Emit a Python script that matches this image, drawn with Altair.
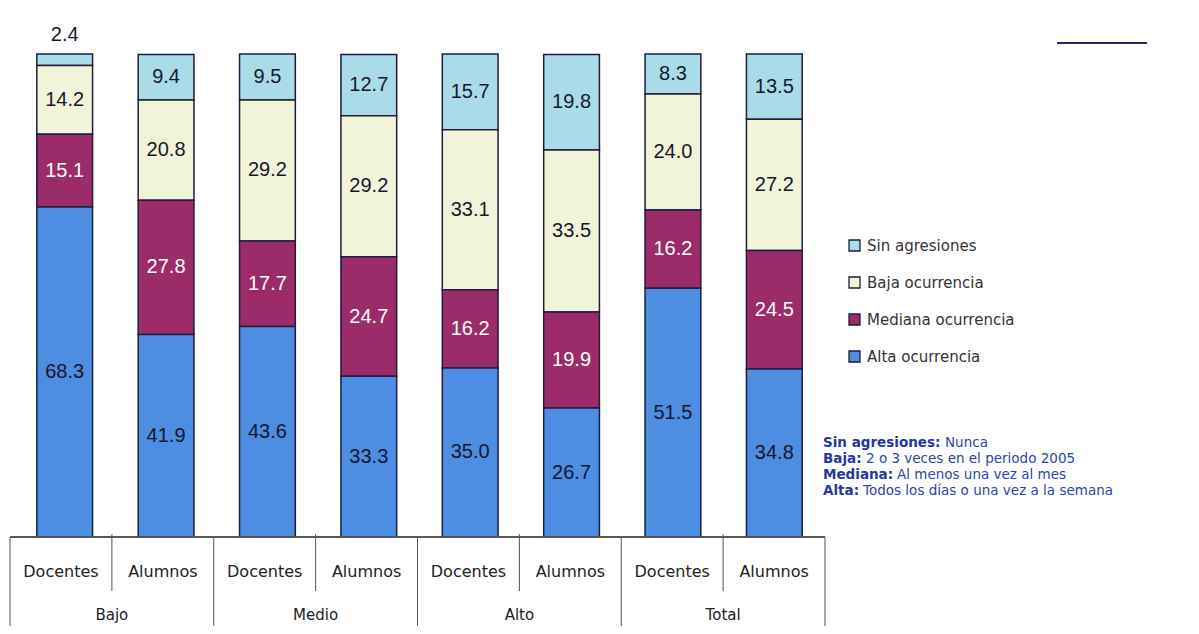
import altair as alt
import pandas as pd

# ---- data ----
groups = ["Bajo", "Bajo", "Medio", "Medio", "Alto", "Alto", "Total", "Total"]
who = ["Docentes", "Alumnos"] * 4
alta = [68.3, 41.9, 43.6, 33.3, 35.0, 26.7, 51.5, 34.8]
mediana = [15.1, 27.8, 17.7, 24.7, 16.2, 19.9, 16.2, 24.5]
baja = [14.2, 20.8, 29.2, 29.2, 33.1, 33.5, 24.0, 27.2]
sin = [2.4, 9.4, 9.5, 12.7, 15.7, 19.8, 8.3, 13.5]

series = ["Sin agresiones", "Baja ocurrencia", "Mediana ocurrencia", "Alta ocurrencia"]
colors = ["#a9dbe8", "#f2f4da", "#9b2b69", "#4d8de2"]

group_names = ["Bajo", "Medio", "Alto", "Total"]
note_keys = ["Sin agresiones:", "Baja:", "Mediana:", "Alta:"]
note_vals = ["Nunca", "2 o 3 veces en el periodo 2005",
             "Al menos una vez al mes", "Todos los días o una vez a la semana"]

# ---- tables ----
keys = [f"{g} {w}" for g, w in zip(groups, who)]
rows = []
for i, k in enumerate(keys):
    for s, vals, o in zip(series, [sin, baja, mediana, alta], [3, 2, 1, 0]):
        rows.append(dict(key=k, serie=s, v=vals[i], o=o))
df = pd.DataFrame(rows)

sub_df = pd.DataFrame({"p": [i + 0.5 for i in range(8)], "lab": who})
grp_df = pd.DataFrame({"p": [1, 3, 5, 7], "lab": group_names})
long_df = pd.DataFrame({"p": [0, 2, 4, 6, 8]})
short_df = pd.DataFrame({"p": [1, 3, 5, 7]})

W, H = 815, 483
FONT = "DejaVu Sans"

xband = alt.X("key:N", sort=keys,
              scale=alt.Scale(paddingInner=0.45, paddingOuter=0.225, range=[4, W]),
              axis=None)
yscale = alt.Scale(domain=[0, 100], nice=False, zero=True)
xlin = alt.X("p:Q", scale=alt.Scale(domain=[0, 8], nice=False, zero=False), axis=None)

bars = alt.Chart(df).mark_bar(stroke="#1e1e3c", strokeWidth=1.5).encode(
    x=xband,
    y=alt.Y("v:Q", stack="zero", scale=yscale, axis=None),
    color=alt.Color("serie:N", scale=alt.Scale(domain=series, range=colors),
                    legend=alt.Legend(title=None, orient="none", legendX=837, legendY=184,
                                      symbolType="square", symbolSize=121,
                                      symbolStrokeColor="#1e1e3c", symbolStrokeWidth=1.3,
                                      labelFont=FONT, labelFontSize=15, labelColor="#333333",
                                      rowPadding=20, labelOffset=5, padding=0)),
    order=alt.Order("o:Q", sort="ascending"),
)

labels = alt.Chart(df).transform_stack(
    stack="v", groupby=["key"], as_=["y0", "y1"],
    sort=[alt.SortField("o", order="ascending")]
).transform_calculate(
    ym="datum.v < 5 ? 104 : (datum.y0 + datum.y1) / 2",
    txt="format(datum.v, '.1f')",
).mark_text(font="Liberation Sans", fontSize=20, baseline="middle").encode(
    x=xband,
    y=alt.Y("ym:Q", scale=yscale, axis=None),
    text="txt:N",
    color=alt.condition(alt.datum.serie == "Mediana ocurrencia",
                        alt.value("white"), alt.value("#17172c")),
)

top_line = alt.Chart(long_df).mark_rule(color="#555555", strokeWidth=1).encode(
    x=alt.value(0), x2=alt.value(W), y=alt.value(H))
long_rules = alt.Chart(long_df).mark_rule(color="#555555", strokeWidth=1).encode(
    x=xlin, y=alt.value(H), y2=alt.value(H + 100))
short_rules = alt.Chart(short_df).mark_rule(color="#555555", strokeWidth=1).encode(
    x=xlin, y=alt.value(H - 3), y2=alt.value(H + 54))
sub_text = alt.Chart(sub_df).mark_text(font=FONT, fontSize=16, color="#222222",
                                       baseline="middle").encode(
    x=xlin, y=alt.value(H + 35), text="lab:N")
grp_text = alt.Chart(grp_df).mark_text(font=FONT, fontSize=15, color="#222222",
                                       baseline="middle").encode(
    x=xlin, y=alt.value(H + 78), text="lab:N")

deco = alt.Chart(long_df).mark_rule(color="#2a2a62", strokeWidth=2).encode(
    x=alt.value(1047), x2=alt.value(1137), y=alt.value(-11))

note_layers = []
val_x = [935, 856, 887, 853]
for i in range(4):
    ndf = pd.DataFrame({"k": [note_keys[i]], "val": [note_vals[i]]})
    note_layers.append(alt.Chart(ndf).mark_text(
        font=FONT, fontSize=13.5, fontWeight="bold", color="#26379c",
        align="left", baseline="middle").encode(
        x=alt.value(813), y=alt.value(389 + 16 * i), text="k:N"))
    note_layers.append(alt.Chart(ndf).mark_text(
        font=FONT, fontSize=13.5, color="#2e44b0",
        align="left", baseline="middle").encode(
        x=alt.value(val_x[i]), y=alt.value(389 + 16 * i), text="val:N"))

chart = alt.layer(
    bars, labels, top_line, long_rules, short_rules, sub_text, grp_text, deco, *note_layers
).resolve_scale(x="independent").properties(
    width=W, height=H,
    autosize=alt.AutoSizeParams(type="none"),
    padding={"left": 2, "top": 46, "right": 366, "bottom": 89},
).configure(background="white").configure_view(strokeWidth=0, stroke=None)

chart.save("out.html", embed_options={"renderer": "svg", "actions": False})
